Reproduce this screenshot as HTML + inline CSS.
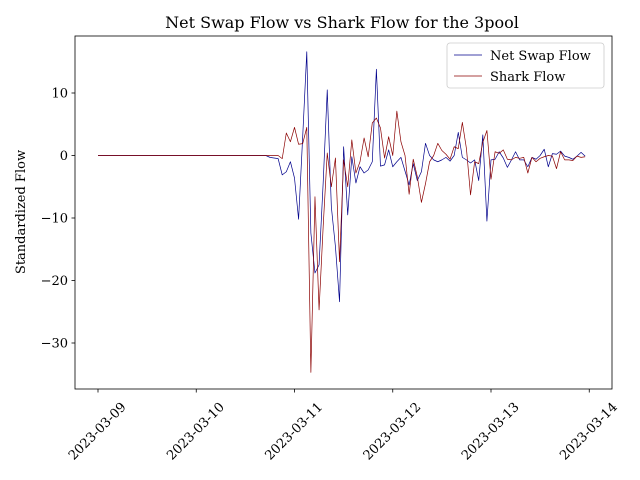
<!DOCTYPE html>
<html><head><meta charset="utf-8"><style>
html,body{margin:0;padding:0;background:#fff}
svg{display:block;font-family:"DejaVu Serif","Liberation Serif",serif}
</style></head><body>
<svg id="chart" width="640" height="480" viewBox="0 0 640 480">
<rect x="0" y="0" width="640" height="480" fill="#fff"/>
<text x="342" y="28" text-anchor="middle" font-size="16">Net Swap Flow vs Shark Flow for the 3pool</text>
<g id="plot"></g>
<rect x="75" y="36" width="537" height="353" fill="none" stroke="#000" stroke-width="0.8"/>
<g id="xaxis"></g>
<g id="yaxis"></g>
<text transform="translate(25,212) rotate(-90)" text-anchor="middle" font-size="13">Standardized Flow</text>
<g>
<rect x="447" y="43" width="157" height="45" rx="3" fill="#fff" fill-opacity="0.8" stroke="#ccc" stroke-width="0.8"/>
<line x1="454" y1="55" x2="482" y2="55" stroke="#00008b" stroke-width="0.8"/>
<text x="490" y="60" font-size="13">Net Swap Flow</text>
<line x1="454" y1="76" x2="482" y2="76" stroke="#8b0000" stroke-width="0.8"/>
<text x="490" y="81" font-size="13">Shark Flow</text>
</g>
</svg>
<script>
const xTickLabels = ["2023-03-09","2023-03-10","2023-03-11","2023-03-12","2023-03-13","2023-03-14"];
const yTickValues = [10,0,-10,-20,-30];
const yTickLabels = ["10","0","\u221210","\u221220","\u221230"];
const netSwapTail = [0,-0.3,-0.4,-0.5,-3.1,-2.6,-1.0,-3.6,-10.2,3,16.6,-12.4,-18.8,-17.5,-4.4,10.5,-8.2,-14.6,-23.4,1.4,-9.5,-0.2,-4.4,-1.8,-2.8,-2.3,-1.0,13.8,-1.7,-1.5,0.9,-1.8,-1.0,-0.3,-2.5,-4.7,-1.3,-4.0,-2.6,1.95,0,-0.7,-1.0,-0.7,-0.3,-0.9,0,3.7,-0.3,-0.7,-1.2,-0.7,-4.0,3.3,-10.5,-0.7,-0.6,0.6,-0.4,-1.9,-0.7,0.6,-0.7,-0.7,-1.8,-0.3,-0.6,0,1.0,-1.8,0.3,0.2,0.7,-0.1,-0.3,-0.6,-0.1,0.5,-0.1];
const sharkTail = [0,0,0,0,-0.5,3.6,2.2,4.5,1.8,1.9,4.5,-34.7,-6.6,-24.7,-11.4,0.4,-5,-0.4,-17,-0.7,-5,2.5,-2.8,-1,2.8,-0.2,5.2,6,4.4,-0.4,3,0,7.1,2.2,0,-6.2,-0.6,-3.4,-7.5,-4.5,-1.0,0,1.95,0.8,0.2,-0.6,1.4,1.1,5.3,1.1,-6.3,-1.0,-1.3,2.1,4.0,-3.8,0.6,0.35,0.9,-0.6,-0.7,-0.3,-0.45,-0.3,-2.8,-0.3,-1.0,-0.45,-0.2,0,-0.1,-2.1,0.6,-0.7,-0.7,-0.8,-0.1,-0.3,-0.2];
const leadingZeroHours = 41;
const netSwap = new Array(leadingZeroHours).fill(0).concat(netSwapTail);
const shark = new Array(leadingZeroHours).fill(0).concat(sharkTail);

const NS="http://www.w3.org/2000/svg";
function xScale(h){return 98 + h*(98.25/24);}
function yScale(v){return 155.5 - v*6.25;}
function mk(t,a){const e=document.createElementNS(NS,t);for(const k in a)e.setAttribute(k,a[k]);return e;}

const xg=document.getElementById('xaxis');
xTickLabels.forEach((lab,i)=>{
  const x=xScale(i*24);
  const t=mk('line',{x1:x,y1:389,x2:x,y2:392.5,stroke:'#000','stroke-width':0.8});
  
  
  xg.appendChild(t);
  const tx=mk('text',{transform:`translate(${x-1},${431}) rotate(-45)`,'text-anchor':'middle','font-size':13,dy:'4.5'});
  
  
  tx.textContent=lab;xg.appendChild(tx);
});
const yg=document.getElementById('yaxis');
yTickValues.forEach((v,i)=>{
  const y=yScale(v);
  const t=mk('line',{x1:71.5,y1:y,x2:75,y2:y,stroke:'#000','stroke-width':0.8});
  
  
  yg.appendChild(t);
  const tx=mk('text',{x:68,y:y+4.5,'text-anchor':'end','font-size':13});
  
  
  tx.textContent=yTickLabels[i];yg.appendChild(tx);
});
const pg=document.getElementById('plot');
function line(arr,color,name){
  const d=arr.map((v,i)=>(i?'L':'M')+xScale(i).toFixed(2)+','+yScale(v).toFixed(2)).join('');
  const p=mk('path',{d:d,fill:'none',stroke:color,'stroke-width':0.7,'stroke-linejoin':'round'});
  
  
  pg.appendChild(p);
}
line(netSwap,'#00008b','net-swap-flow-line');
line(shark,'#8b0000','shark-flow-line');
</script>
</body></html>
